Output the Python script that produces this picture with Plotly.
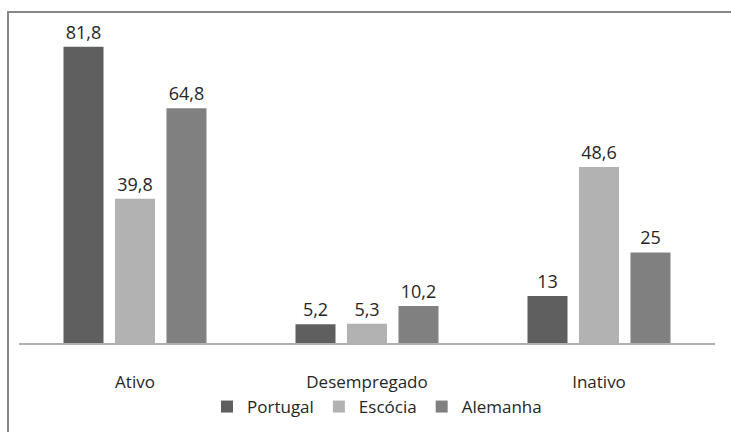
import plotly.graph_objects as go

categories = ["Ativo", "Desempregado", "Inativo"]
series_names = ["Portugal", "Escócia", "Alemanha"]
portugal = [81.8, 5.2, 13]
escocia = [39.8, 5.3, 48.6]
alemanha = [64.8, 10.2, 25]
colors = ["#5f5f5f", "#b2b2b2", "#808080"]

W, H = 731, 432
ml, mr, mt, mb = 19, 16, 17, 89
pw = W - ml - mr
ph = H - mt - mb

font_family = "Open Sans, Lato, sans-serif"
txt_color = "#262626"

def fmt(v):
    s = ("%g" % v)
    return s.replace(".", ",")

fig = go.Figure()
for name, vals, col in zip(series_names, [portugal, escocia, alemanha], colors):
    fig.add_trace(go.Bar(
        x=categories, y=vals, name=name,
        marker=dict(color=col, line=dict(width=0)),
        text=[fmt(v) for v in vals], textposition="outside",
        textfont=dict(size=18, color=txt_color, family=font_family),
        cliponaxis=False,
    ))

fig.update_layout(
    width=W, height=H,
    margin=dict(l=ml, r=mr, t=mt, b=mb, pad=0, autoexpand=False),
    paper_bgcolor="white", plot_bgcolor="white",
    barmode="group", bargap=0.334, bargroupgap=0.223,
    font=dict(family=font_family, size=17, color=txt_color),
    showlegend=True,
    legend=dict(orientation="h", x=(377 - ml) / pw, xanchor="center",
                y=-64 / ph, yanchor="middle", bgcolor="rgba(0,0,0,0)",
                font=dict(size=17, color=txt_color, family=font_family),
                itemwidth=30, traceorder="normal"),
    xaxis=dict(showgrid=False, showline=True, linecolor="#b0b0b0", linewidth=1.5,
               ticks="", ticklabelstandoff=23,
               tickfont=dict(size=17, color=txt_color, family=font_family)),
    yaxis=dict(range=[0, 90], showgrid=False, showticklabels=False,
               zeroline=False, showline=False, ticks=""),
)

# chart-area border (top and left visible, rest cut off by image)
fig.add_shape(type="rect", xref="paper", yref="paper",
              x0=(8 - ml) / pw, x1=(W + 20 - ml) / pw,
              y0=-(H + 20 - mt - ph) / ph, y1=(ph + (mt - 12)) / ph,
              line=dict(color="#878787", width=2), fillcolor="rgba(0,0,0,0)",
              layer="below")

fig.write_html("out.html", config={"displayModeBar": False},
               post_script="document.body.style.margin='0';document.body.style.overflow='hidden';")
